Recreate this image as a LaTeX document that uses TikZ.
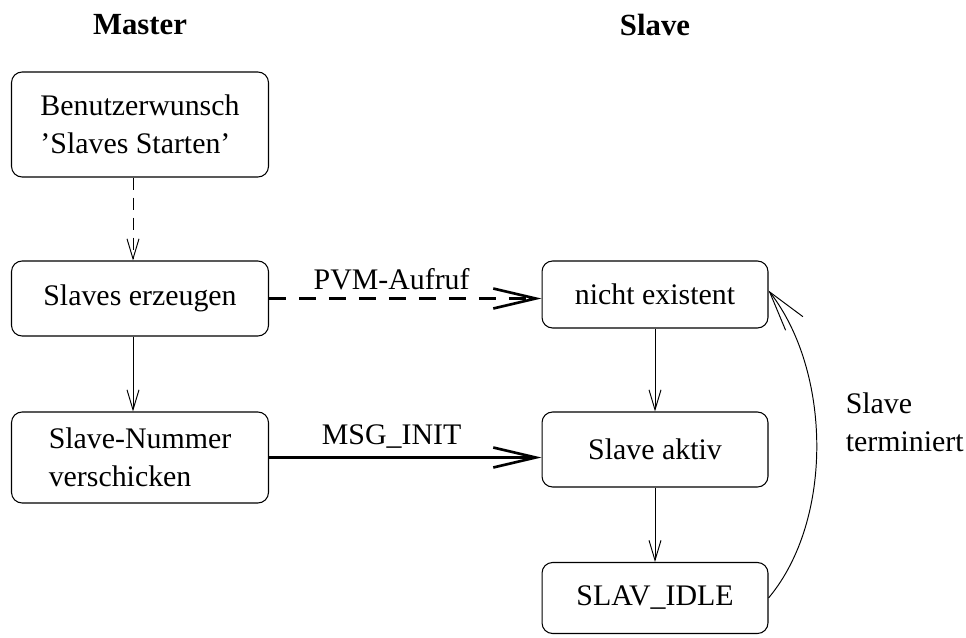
\documentclass[tikz,border=0pt]{standalone}
\usepackage{fontspec}
\setmainfont{Liberation Serif}
\usepackage{tikz}
\usetikzlibrary{arrows.meta,positioning,calc}
\tikzset{
  statebox/.style={rounded corners=6pt, draw=black, line width=0.6pt,
                   inner sep=3pt, align=left, font=\fontsize{17}{21.5}\selectfont},
  thinarr/.style={-{Straight Barb[length=4mm,width=2.4mm]}, draw=black, line width=0.55pt},
  msgarr/.style={-{Straight Barb[length=8.5mm,width=4mm,line width=1.5pt]}, draw=black, line width=1.5pt},
  msglab/.style={font=\fontsize{17}{21.5}\selectfont, above=1pt},
  colhead/.style={font=\fontsize{17.5}{21}\selectfont\bfseries},
}
\begin{document}
\begin{tikzpicture}[x=0.02cm,y=0.02cm]
\useasboundingbox (0,0) rectangle (966,637);
\node[colhead] (mhead) at (140,612) {Master};
\node[colhead] (shead) at (655,612) {Slave};
% Master
\node[statebox, minimum width=5.14cm, minimum height=2.1cm] (wish) at (140,512.5)
  {Benutzerwunsch\\'Slaves Starten'};
\node[statebox, minimum width=5.14cm, minimum height=1.5cm] (create) at (140,338.5)
  {Slaves erzeugen};
\node[statebox, minimum width=5.14cm, minimum height=1.82cm] (number) at (140,179.5)
  {Slave-Nummer\\verschicken};
% Slave
\node[statebox, minimum width=4.52cm, minimum height=1.34cm] (none) at (655,342.5)
  {nicht existent};
\node[statebox, minimum width=4.52cm, minimum height=1.5cm] (active) at (655,187.5)
  {Slave aktiv};
\node[statebox, minimum width=4.52cm, minimum height=1.42cm] (idle) at (655,39)
  {SLAV\_IDLE};
\draw[thinarr, dash pattern=on 0.24cm off 0.16cm] ([xshift=-0.14cm]wish.south) -- ([xshift=-0.14cm]create.north);
\draw[thinarr] ([xshift=-0.14cm]create.south) -- ([xshift=-0.14cm]number.north);
\draw[thinarr] (none) -- (active);
\draw[thinarr] (active) -- (idle);
\draw[msgarr, dash pattern=on 0.34cm off 0.26cm] (create.east) -- node[msglab, pos=0.45]{PVM-Aufruf} (create.east -| none.west);
\draw[msgarr] (number.east) -- node[msglab, pos=0.45]{MSG\_INIT} (number.east -| active.west);
\draw[-{Straight Barb[length=8mm,width=4.4mm]}, line width=0.55pt]
  (idle.east) to[out=50,in=-52,looseness=0.85] ([yshift=0.08cm]none.east);
\node[statebox, draw=none, anchor=west] (term) at (840,215) {Slave\\terminiert};
\end{tikzpicture}
\end{document}
